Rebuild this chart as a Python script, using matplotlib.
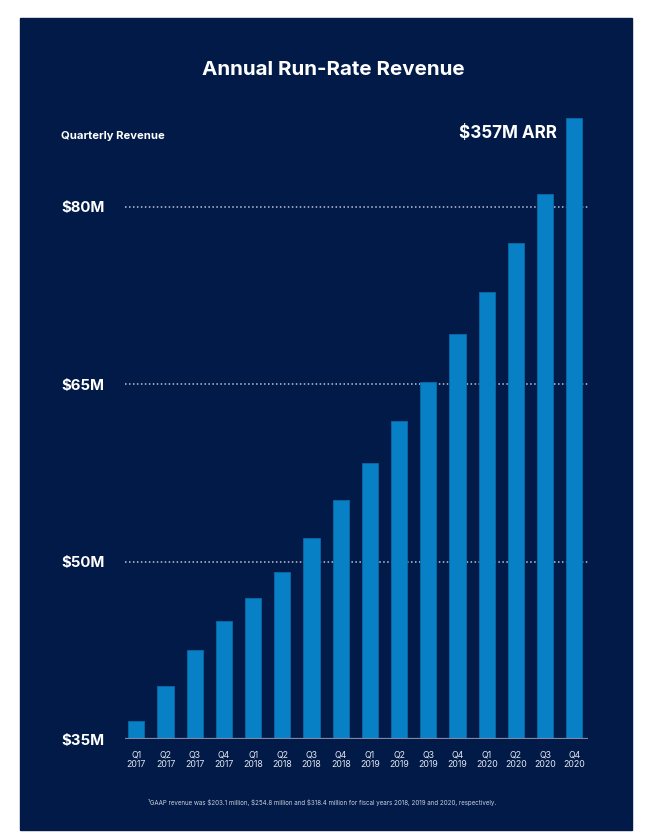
import matplotlib
matplotlib.use("Agg")
from matplotlib import pyplot as plt
from matplotlib.patches import Rectangle
import numpy as np

# chart data
quarters = ["Q1\n2017", "Q2\n2017", "Q3\n2017", "Q4\n2017",
            "Q1\n2018", "Q2\n2018", "Q3\n2018", "Q4\n2018",
            "Q1\n2019", "Q2\n2019", "Q3\n2019", "Q4\n2019",
            "Q1\n2020", "Q2\n2020", "Q3\n2020", "Q4\n2020"]
revenue = [36.5, 39.5, 42.5, 45.0, 46.9, 49.1, 52.0, 55.2,
           58.3, 61.9, 65.2, 69.2, 72.8, 76.9, 81.1, 87.5]
ytick_vals = [35, 50, 65, 80]
ytick_labels = ["$35M", "$50M", "$65M", "$80M"]
grid_vals = [50, 65, 80]

navy = "#011a47"
bar_blue = "#0880c6"
W, H = 650, 835

plt.rcParams['font.family'] = ['Inter', 'DejaVu Sans']

fig = plt.figure(figsize=(W / 100, H / 100), dpi=100)
fig.patch.set_facecolor("white")

# navy panel behind everything
fig.patches.append(Rectangle((20 / W, 1 - 830 / H), 612 / W, 812 / H,
                             transform=fig.transFigure, color=navy, zorder=-5))

# axes placed in pixel terms: x 125..588, y 88..739
ax = fig.add_axes([125 / W, 1 - 739 / H, 463 / W, (739 - 88.4) / H])
ax.set_facecolor("none")
ax.set_zorder(2)

x = np.arange(len(revenue))
ax.bar(x, np.array(revenue) - 35, bottom=35, width=0.55, color=bar_blue,
       edgecolor="#0a6aa8", linewidth=0.6, zorder=3)

for g in grid_vals:
    ax.axhline(g, color="#bcc4d6", linestyle=(0, (1, 1.6)), linewidth=1.1, zorder=1)
ax.axhline(35, color="#7d88a6", linewidth=1.6, zorder=4)

ax.set_xlim(-0.387, 15.469)
ax.set_ylim(35, 90)

ax.set_xticks(x)
ax.set_xticklabels(quarters, fontsize=6.3, color="#e3e7f0", linespacing=1.1)
ax.set_yticks(ytick_vals)
ax.set_yticklabels(ytick_labels, fontsize=10.8, color="white", fontweight="bold")
for lab in ax.get_yticklabels():
    lab.set_horizontalalignment("left")
ax.tick_params(axis="y", length=0, pad=46)
ax.tick_params(axis="x", length=0, pad=8)
for s in ax.spines.values():
    s.set_visible(False)

fig.text(333 / W, 1 - 70 / H, "Annual Run-Rate Revenue", ha="center", va="center",
         fontsize=14.8, fontweight="bold", color="white")
fig.text(61 / W, 1 - 136 / H, "Quarterly Revenue", ha="left", va="center",
         fontsize=8.1, fontweight="bold", color="white")
fig.text(557 / W, 1 - 134 / H, "$357M ARR", ha="right", va="center",
         fontsize=12.3, fontweight="bold", color="white")
fig.text(322 / W, 1 - 803 / H,
         "\u00b9GAAP revenue was $203.1 million, $254.8 million and $318.4 million "
         "for fiscal years 2018, 2019 and 2020, respectively.",
         ha="center", va="center", fontsize=4.45, color="#c9cfdc")

plt.savefig("out.png", dpi=100, facecolor="white")
